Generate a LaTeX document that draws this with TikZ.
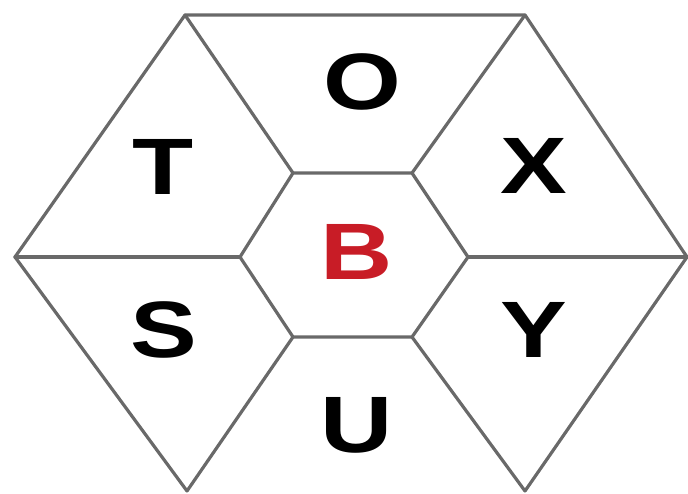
\documentclass[tikz,border=0pt]{standalone}
\usepackage{fontspec}
\setmainfont{Liberation Sans}
\definecolor{edgegray}{RGB}{105,105,105}
\definecolor{bred}{RGB}{200,28,38}
\tikzset{
  edge/.style={draw=edgegray, line width=3.2pt, line cap=round, line join=round},
  letter/.style={inner sep=0pt, font=\fontsize{80}{80}\selectfont\bfseries}
}
\newcommand{\wide}[1]{\scalebox{1.25}[1]{#1}}
\begin{document}
\begin{tikzpicture}[x=1pt,y=-1pt]
\useasboundingbox (0,0) rectangle (688,493);
% outer vertices
\coordinate (A1) at (185,15);
\coordinate (A2) at (525,15);
\coordinate (A3) at (687,257);
\coordinate (A4) at (525,491);
\coordinate (A5) at (187,491);
\coordinate (A6) at (15,257);
% inner vertices
\coordinate (B1) at (293,173);
\coordinate (B2) at (412,173);
\coordinate (B3) at (468,257);
\coordinate (B4) at (412,337);
\coordinate (B5) at (293,337);
\coordinate (B6) at (240,257);
% outer hexagon (bottom edge cut off)
\draw[edge] (A5) -- (A6) -- (A1) -- (A2) -- (A3) -- (A4);
% inner hexagon
\draw[edge] (B1) -- (B2) -- (B3) -- (B4) -- (B5) -- (B6) -- cycle;
% spokes
\draw[edge] (B1) -- (A1);
\draw[edge] (B2) -- (A2);
\draw[edge] (B3) -- (A3);
\draw[edge] (B4) -- (A4);
\draw[edge] (B5) -- (A5);
\draw[edge] (B6) -- (A6);
% letters
\node[letter] (O) at (362,82) {\wide{O}};
\node[letter] (T) at (163,167) {\wide{T}};
\node[letter] (X) at (534,166) {\wide{X}};
\node[letter, text=bred] (B) at (357,252) {\wide{B}};
\node[letter] (S) at (164,330) {\wide{S}};
\node[letter] (Y) at (534,330) {\wide{Y}};
\node[letter] (U) at (357,425) {\wide{U}};
\end{tikzpicture}
\end{document}
